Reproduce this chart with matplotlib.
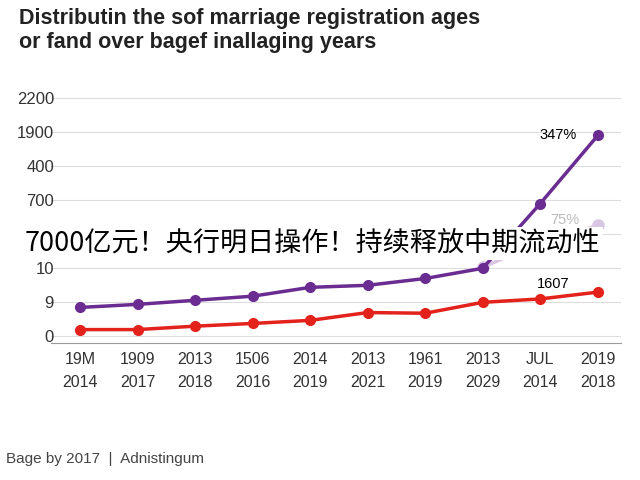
import matplotlib
matplotlib.use("Agg")
import matplotlib.pyplot as plt

x_top = ["19M","1909","2013","1506","2014","2013","1961","2013","JUL","2019"]
x_bot = ["2014","2017","2018","2016","2019","2021","2019","2029","2014","2018"]
y_labels = ["0","9","10","1?","700","400","1900","2200"]
purple = [0.85,0.94,1.06,1.18,1.44,1.5,1.7,2.0,3.9,5.9]
light_x = [7,8,9]
light = [2.03,2.75,3.26]
red = [0.2,0.2,0.3,0.38,0.47,0.7,0.68,1.0,1.1,1.3]

plt.rcParams['font.family'] = ['Liberation Sans','Noto Sans CJK SC','DejaVu Sans']
fig = plt.figure(figsize=(6.4,4.8), dpi=100)
ax = fig.add_axes([0.08,0.285,0.89,0.525])
xs = list(range(len(x_top)))
ax.plot(light_x, light, color="#d9c6e3", lw=2.5, marker="o", ms=8, zorder=2)
ax.plot(xs, purple, color="#6a2c91", lw=2.5, marker="o", ms=7, zorder=3)
ax.plot(xs, red, color="#e3221b", lw=2.5, marker="o", ms=7, zorder=3)
ax.set_xlim(-0.5,9.4)
ax.set_ylim(-0.2,7.2)
ax.set_yticks(range(8))
ax.set_yticklabels(y_labels, fontsize=12, color="#333")
ax.set_xticks(xs)
ax.set_xticklabels([f"{a}\n{b}" for a,b in zip(x_top,x_bot)], fontsize=11.5, color="#333", linespacing=1.7)
ax.grid(axis="y", color="#dddddd", lw=0.8)
for s in ["top","right","left"]:
    ax.spines[s].set_visible(False)
ax.spines["bottom"].set_color("#999")
ax.tick_params(length=0, pad=6)
ax.tick_params(axis="y", pad=-2)
ax.annotate("347%", (9,5.9), xytext=(-42,0), textcoords="offset points", fontsize=10.5, va="center")
ax.annotate("75%", (9,3.26), xytext=(-34,4), textcoords="offset points", fontsize=10.5, va="center", color="#bbb")
ax.annotate("1607", (9,1.3), xytext=(-44,6), textcoords="offset points", fontsize=10.5, va="center")
fig.text(0.03,0.89,"Distributin the sof marriage registration ages\nor fand over bagef inallaging years",
         fontsize=15.5, fontweight="bold", color="#222", va="bottom", linespacing=1.15)
fig.text(0.01,0.035,"Bage by 2017  |  Adnistingum", fontsize=11, color="#444")
fig.text(0.038,0.493,"7000亿元！央行明日操作！持续释放中期流动性", fontsize=19.5, color="black",
         family=['Noto Sans CJK SC','DejaVu Sans'],
         va="center", bbox=dict(facecolor="white", edgecolor="none", pad=2))
fig.savefig("out.png", dpi=100)
